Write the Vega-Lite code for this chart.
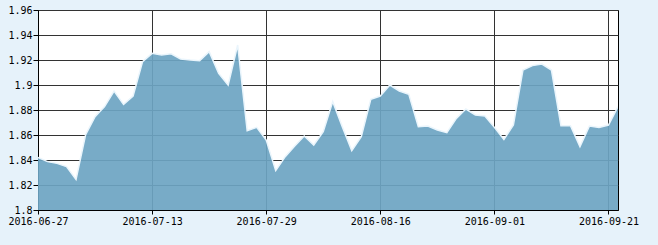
{
  "$schema": "https://vega.github.io/schema/vega-lite/v6.json",
  "autosize": "none",
  "width": 580,
  "height": 200,
  "padding": {"left": 38, "top": 10, "right": 40, "bottom": 35},
  "background": "#E6F2FA",
  "config": {
    "view": {"fill": "#FFFFFF", "stroke": "#000000", "strokeWidth": 1},
    "axis": {
      "labelFont": "DejaVu Sans Mono",
      "labelFontSize": 10,
      "labelColor": "#000000",
      "domainColor": "#000000",
      "tickColor": "#000000",
      "gridColor": "#333333",
      "gridOpacity": 1,
      "gridWidth": 1,
      "title": null
    }
  },
  "data": {
    "values": [
      {"date": "2016-06-27", "v": 1.8421},
      {"date": "2016-06-28", "v": 1.8387},
      {"date": "2016-06-29", "v": 1.8373},
      {"date": "2016-06-30", "v": 1.8347},
      {"date": "2016-07-01", "v": 1.8245},
      {"date": "2016-07-04", "v": 1.8600},
      {"date": "2016-07-05", "v": 1.8747},
      {"date": "2016-07-06", "v": 1.8827},
      {"date": "2016-07-07", "v": 1.8952},
      {"date": "2016-07-08", "v": 1.8845},
      {"date": "2016-07-11", "v": 1.8912},
      {"date": "2016-07-12", "v": 1.9187},
      {"date": "2016-07-13", "v": 1.9253},
      {"date": "2016-07-14", "v": 1.9240},
      {"date": "2016-07-15", "v": 1.9250},
      {"date": "2016-07-18", "v": 1.9208},
      {"date": "2016-07-19", "v": 1.9200},
      {"date": "2016-07-20", "v": 1.9195},
      {"date": "2016-07-21", "v": 1.9267},
      {"date": "2016-07-22", "v": 1.9093},
      {"date": "2016-07-25", "v": 1.9000},
      {"date": "2016-07-26", "v": 1.9320},
      {"date": "2016-07-27", "v": 1.8635},
      {"date": "2016-07-28", "v": 1.8661},
      {"date": "2016-07-29", "v": 1.8560},
      {"date": "2016-08-01", "v": 1.8315},
      {"date": "2016-08-02", "v": 1.8427},
      {"date": "2016-08-03", "v": 1.8512},
      {"date": "2016-08-04", "v": 1.8592},
      {"date": "2016-08-05", "v": 1.8520},
      {"date": "2016-08-08", "v": 1.8627},
      {"date": "2016-08-09", "v": 1.8867},
      {"date": "2016-08-10", "v": 1.8667},
      {"date": "2016-08-11", "v": 1.8475},
      {"date": "2016-08-12", "v": 1.8587},
      {"date": "2016-08-15", "v": 1.8885},
      {"date": "2016-08-16", "v": 1.8912},
      {"date": "2016-08-17", "v": 1.9000},
      {"date": "2016-08-18", "v": 1.8952},
      {"date": "2016-08-19", "v": 1.8925},
      {"date": "2016-08-22", "v": 1.8667},
      {"date": "2016-08-23", "v": 1.8672},
      {"date": "2016-08-24", "v": 1.8640},
      {"date": "2016-08-25", "v": 1.8619},
      {"date": "2016-08-26", "v": 1.8733},
      {"date": "2016-08-29", "v": 1.8808},
      {"date": "2016-08-30", "v": 1.8760},
      {"date": "2016-08-31", "v": 1.8752},
      {"date": "2016-09-01", "v": 1.8661},
      {"date": "2016-09-02", "v": 1.8565},
      {"date": "2016-09-05", "v": 1.8680},
      {"date": "2016-09-06", "v": 1.9120},
      {"date": "2016-09-07", "v": 1.9155},
      {"date": "2016-09-08", "v": 1.9168},
      {"date": "2016-09-09", "v": 1.9120},
      {"date": "2016-09-12", "v": 1.8675},
      {"date": "2016-09-13", "v": 1.8675},
      {"date": "2016-09-14", "v": 1.8507},
      {"date": "2016-09-19", "v": 1.8672},
      {"date": "2016-09-20", "v": 1.8661},
      {"date": "2016-09-21", "v": 1.8680},
      {"date": "2016-09-22", "v": 1.8827}
    ]
  },
  "encoding": {
    "x": {
      "field": "date",
      "type": "ordinal",
      "sort": null,
      "scale": {"type": "point", "padding": 0},
      "axis": {
        "values": ["2016-06-27", "2016-07-13", "2016-07-29", "2016-08-16", "2016-09-01", "2016-09-21"],
        "labelAngle": 0,
        "grid": true,
        "tickSize": 4,
        "labelPadding": 2,
        "labelFlush": false,
        "labelOverlap": false
      }
    },
    "y": {
      "field": "v",
      "type": "quantitative",
      "scale": {"domain": [1.8, 1.96], "nice": false, "zero": false},
      "axis": {
        "values": [1.8, 1.82, 1.84, 1.86, 1.88, 1.9, 1.92, 1.94, 1.96],
        "format": "~g",
        "grid": true,
        "tickSize": 5,
        "labelPadding": 1,
        "labelFlush": false,
        "labelOverlap": false
      }
    }
  },
  "layer": [
    {"mark": {"type": "area", "color": "#6DA4C2", "opacity": 0.92, "clip": true}},
    {"mark": {"type": "line", "color": "#EAF5FC", "strokeWidth": 1.5, "clip": true}}
  ]
}
